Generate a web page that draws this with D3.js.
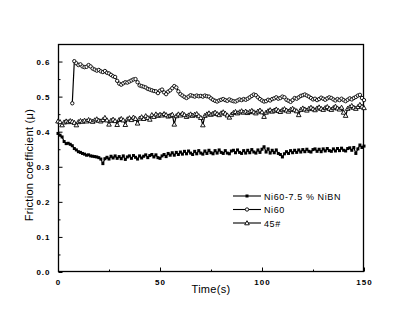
<!DOCTYPE html>
<html>
<head>
<meta charset="utf-8">
<script src="https://cdn.jsdelivr.net/npm/d3@7"></script>
<style>
  html, body { margin: 0; padding: 0; background: #fff; }
  svg { display: block; }
  .tick-label { font-family: Arial, "Liberation Sans", sans-serif; font-weight: bold; font-size: 8px; letter-spacing: 1px; }
  .axis-title { font-family: Arial, "Liberation Sans", sans-serif; font-size: 11px; letter-spacing: 0.3px; }
  .legend-text { font-family: Arial, "Liberation Sans", sans-serif; font-size: 9px; letter-spacing: 0.6px; }
</style>
</head>
<body>
<svg id="chart" width="408" height="328"></svg>
<script>
// Friction coefficient versus sliding time, one sample per second
const seriesNames = ["Ni60-7.5 % NiBN", "Ni60", "45#"];

const niBnStart = 0;
const niBnValues = [
  0.395,0.390,0.385,0.372,0.366,0.367,0.364,0.360,0.352,0.348,0.343,
  0.341,0.338,0.336,0.333,0.334,0.331,0.330,0.329,0.328,0.326,
  0.322,0.309,0.323,0.327,0.322,0.330,0.325,0.331,0.324,0.329,
  0.323,0.331,0.321,0.328,0.331,0.324,0.332,0.327,0.322,0.331,
  0.325,0.330,0.334,0.326,0.332,0.335,0.328,0.334,0.326,0.324,
  0.331,0.335,0.329,0.338,0.333,0.340,0.333,0.341,0.335,0.342,
  0.336,0.344,0.337,0.345,0.339,0.335,0.344,0.337,0.346,0.339,
  0.336,0.345,0.338,0.347,0.340,0.337,0.346,0.339,0.348,0.341,
  0.338,0.346,0.339,0.337,0.345,0.347,0.340,0.348,0.341,0.338,
  0.346,0.339,0.347,0.340,0.349,0.342,0.339,0.348,0.341,0.350,
  0.357,0.342,0.351,0.339,0.347,0.340,0.348,0.338,0.335,0.328,
  0.337,0.343,0.338,0.346,0.340,0.347,0.341,0.348,0.342,0.349,
  0.343,0.350,0.344,0.342,0.349,0.351,0.344,0.350,0.343,0.351,
  0.345,0.352,0.346,0.344,0.351,0.345,0.352,0.346,0.353,0.347,
  0.345,0.352,0.354,0.347,0.355,0.338,0.351,0.362,0.355,0.359
];

const ni60Start = 7;
const ni60Values = [
  0.481,0.601,0.595,0.590,0.592,0.586,0.584,0.585,0.590,0.586,
  0.580,0.577,0.574,0.576,0.572,0.570,0.573,0.568,0.566,0.562,
  0.558,0.556,0.545,0.537,0.534,0.538,0.541,0.540,0.543,0.546,
  0.549,0.550,0.541,0.532,0.530,0.528,0.526,0.522,0.520,0.518,
  0.516,0.515,0.510,0.517,0.520,0.512,0.507,0.514,0.518,0.524,
  0.530,0.526,0.515,0.507,0.503,0.499,0.496,0.500,0.504,0.502,
  0.500,0.503,0.501,0.502,0.500,0.503,0.501,0.500,0.495,0.491,
  0.488,0.486,0.489,0.491,0.493,0.490,0.488,0.492,0.489,0.487,
  0.486,0.489,0.492,0.490,0.493,0.491,0.494,0.498,0.502,0.506,
  0.504,0.498,0.493,0.489,0.486,0.487,0.491,0.489,0.493,0.495,
  0.498,0.494,0.496,0.500,0.498,0.491,0.488,0.485,0.490,0.496,
  0.494,0.498,0.502,0.504,0.506,0.503,0.500,0.496,0.492,0.494,
  0.490,0.493,0.497,0.494,0.491,0.495,0.498,0.496,0.492,0.489,
  0.493,0.490,0.494,0.490,0.487,0.491,0.495,0.492,0.496,0.499,
  0.503,0.505,0.496,0.490
];

const steelStart = 0;
const steelValues = [
  0.430,0.428,0.419,0.427,0.430,0.428,0.431,0.429,0.426,0.419,0.428,
  0.431,0.429,0.432,0.430,0.434,0.431,0.429,0.433,0.436,0.432,
  0.430,0.434,0.440,0.433,0.421,0.432,0.435,0.431,0.420,0.434,
  0.437,0.433,0.420,0.436,0.439,0.434,0.441,0.437,0.424,0.438,
  0.442,0.437,0.445,0.440,0.435,0.448,0.443,0.450,0.446,0.449,
  0.447,0.451,0.448,0.444,0.446,0.449,0.421,0.445,0.450,0.447,
  0.452,0.448,0.443,0.447,0.450,0.446,0.449,0.451,0.445,0.440,
  0.419,0.446,0.450,0.453,0.449,0.452,0.455,0.451,0.448,0.453,
  0.456,0.452,0.447,0.441,0.449,0.454,0.457,0.453,0.456,0.459,
  0.455,0.458,0.454,0.457,0.460,0.456,0.453,0.458,0.461,0.456,
  0.443,0.455,0.459,0.462,0.458,0.461,0.464,0.460,0.457,0.462,
  0.465,0.461,0.458,0.463,0.466,0.462,0.459,0.448,0.463,0.467,
  0.464,0.461,0.466,0.469,0.465,0.462,0.467,0.470,0.466,0.463,
  0.468,0.471,0.466,0.463,0.468,0.472,0.467,0.464,0.469,0.455,
  0.446,0.466,0.470,0.474,0.469,0.466,0.471,0.477,0.472,0.468
];

const xTicks = [0, 50, 100, 150];
const xMinorTicks = [25, 75, 125];
const yTicks = [0.0, 0.1, 0.2, 0.3, 0.4, 0.5, 0.6];
const yMinorTicks = [0.05, 0.15, 0.25, 0.35, 0.45, 0.55, 0.65];

const toPoints = (start, vals) => vals.map((v, i) => ({ t: start + i, v }));
const series = [
  { name: seriesNames[0], marker: "square",   pts: toPoints(niBnStart, niBnValues) },
  { name: seriesNames[1], marker: "circle",   pts: toPoints(ni60Start, ni60Values) },
  { name: seriesNames[2], marker: "triangle", pts: toPoints(steelStart, steelValues) }
];

const svg = d3.select("#chart");
const plotLeft = 58, plotRight = 364, plotTop = 44, plotBottom = 272;

const x = d3.scaleLinear().domain([0, 150]).range([plotLeft, plotRight]);
const y = d3.scaleLinear().domain([0, 0.65]).range([plotBottom, plotTop]);

// Frame
svg.append("rect")
  .attr("x", plotLeft + 0.5).attr("y", plotTop + 0.5)
  .attr("width", plotRight - plotLeft - 1).attr("height", plotBottom - plotTop - 1)
  .attr("fill", "none").attr("stroke", "#000").attr("stroke-width", 1.3);

// Axes with inward ticks
const xAxis = d3.axisBottom(x).tickValues(xTicks).tickSize(-4).tickPadding(8)
  .tickFormat(d3.format("d"));
const gx = svg.append("g").attr("transform", `translate(0,${plotBottom - 0.5})`).call(xAxis);
gx.select(".domain").remove();
gx.selectAll("text").attr("class", "tick-label").attr("fill", "#000");
svg.append("g").attr("transform", `translate(0,${plotBottom - 0.5})`)
  .call(d3.axisBottom(x).tickValues(xMinorTicks).tickSize(-2).tickFormat(""))
  .select(".domain").remove();

const yAxis = d3.axisLeft(y).tickValues(yTicks).tickSize(-4).tickPadding(8)
  .tickFormat(d3.format(".1f"));
const gy = svg.append("g").attr("transform", `translate(${plotLeft + 0.5},0)`).call(yAxis);
gy.select(".domain").remove();
gy.selectAll("text").attr("class", "tick-label").attr("fill", "#000");
svg.append("g").attr("transform", `translate(${plotLeft + 0.5},0)`)
  .call(d3.axisLeft(y).tickValues(yMinorTicks).tickSize(-2).tickFormat(""))
  .select(".domain").remove();

svg.selectAll(".tick line").attr("stroke", "#000");

// Axis titles
svg.append("text").attr("class", "axis-title")
  .attr("x", 211).attr("y", 293)
  .attr("text-anchor", "middle").text("Time(s)");
svg.append("text").attr("class", "axis-title")
  .attr("transform", `translate(33,165) rotate(-90)`)
  .attr("text-anchor", "middle").text("Friction coefficient (μ)");

// Marker drawing
function drawMarker(sel, kind) {
  if (kind === "square") {
    sel.append("rect").attr("x", -1.5).attr("y", -1.5).attr("width", 3).attr("height", 3)
      .attr("fill", "#000");
  } else if (kind === "circle") {
    sel.append("circle").attr("r", 1.7).attr("fill", "#fff").attr("stroke", "#000").attr("stroke-width", 0.9);
  } else {
    sel.append("path").attr("d", "M0,-2.3 L2.3,1.8 L-2.3,1.8 Z")
      .attr("fill", "#fff").attr("stroke", "#000").attr("stroke-width", 0.9);
  }
}

const line = d3.line().x(d => x(d.t)).y(d => y(d.v));
const plot = svg.append("g");
series.forEach(s => {
  plot.append("path").datum(s.pts).attr("d", line)
    .attr("fill", "none").attr("stroke", "#000").attr("stroke-width", 1.2);
  plot.selectAll(null).data(s.pts).enter().append("g")
    .attr("transform", d => `translate(${x(d.t)},${y(d.v)})`)
    .each(function () { drawMarker(d3.select(this), s.marker); });
});

// Legend
const legend = svg.append("g");
series.forEach((s, i) => {
  const ly = 196 + i * 13.5;
  legend.append("line").attr("x1", 233).attr("x2", 261).attr("y1", ly).attr("y2", ly)
    .attr("stroke", "#000").attr("stroke-width", 1.1);
  const m = legend.append("g").attr("transform", `translate(247,${ly})`);
  drawMarker(m, s.marker);
  legend.append("text").attr("class", "legend-text")
    .attr("x", 264).attr("y", ly + 3.5).text(s.name);
});
</script>
</body>
</html>
